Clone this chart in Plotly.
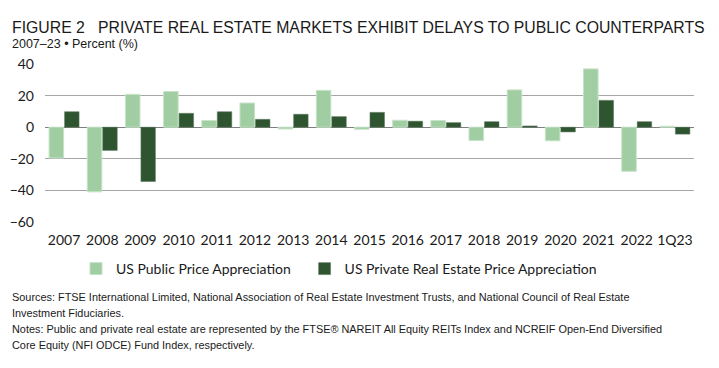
import plotly.graph_objects as go

categories = ["2007", "2008", "2009", "2010", "2011", "2012", "2013", "2014", "2015",
              "2016", "2017", "2018", "2019", "2020", "2021", "2022", "1Q23"]
public_vals = [-19.5, -40.9, 20.8, 22.6, 4.2, 15.3, -1.1, 23.3, -1.3,
               4.4, 4.2, -8.4, 23.6, -8.6, 36.9, -27.9, 0.6]
private_vals = [9.8, -14.7, -34.4, 8.8, 9.8, 5.0, 8.2, 6.7, 9.4,
                3.8, 2.9, 3.5, 0.8, -3.0, 17.0, 3.5, -4.4]
y_ticks = [-60, -40, -20, 0, 20, 40]

LIGHT = "#a0cda2"
DARK = "#2e5530"
TXT = "#1a1a1a"
COND = "Liberation Sans, Arial, sans-serif"

# the page body adds an 8px offset; work in target-pixel coords and subtract it
OFF = 8
W, H = 719 - OFF, 368 - OFF
L, R, T, B = 45 - OFF, 25, 64 - OFF, 146
ph = H - T - B
pw = W - L - R

def py(p):
    return (H - B - (p - OFF)) / ph

def px(p):
    return ((p - OFF) - L) / pw

fig = go.Figure()
fig.add_trace(go.Bar(x=categories, y=public_vals, name="US Public Price Appreciation\u2002\u2009",
                     marker=dict(color=LIGHT, line=dict(color="#c6e3c7", width=1))))
fig.add_trace(go.Bar(x=categories, y=private_vals, name="US Private Real Estate Price Appreciation",
                     marker=dict(color=DARK, line=dict(color="#5f7a60", width=0.5))))

fig.update_layout(
    width=W, height=H,
    margin=dict(l=L, r=R, t=T, b=B, autoexpand=False),
    paper_bgcolor="white", plot_bgcolor="white",
    barmode="group", bargap=0.19, bargroupgap=0.06,
    font=dict(family="Lato, sans-serif", color=TXT, size=14),
    showlegend=True,
    legend=dict(orientation="h", x=px(76), xanchor="left", y=py(269), yanchor="middle",
                font=dict(family="Lato, sans-serif", size=14, color=TXT),
                itemwidth=30, bgcolor="rgba(0,0,0,0)"),
    xaxis=dict(showgrid=False, ticks="", showline=False, ticklabelstandoff=8,
               tickfont=dict(family="Lato, sans-serif", size=14, color=TXT)),
    yaxis=dict(range=[-60, 40], tickvals=y_ticks, showgrid=True, gridcolor="#a6a6a6",
               gridwidth=1, zeroline=True, zerolinecolor="#7f7f7f", zerolinewidth=1.3,
               ticks="", showline=False, ticklabelstandoff=10,
               tickfont=dict(family="Lato, sans-serif", size=14, color=TXT)),
)

annotations = [
    dict(text="FIGURE 2   PRIVATE REAL ESTATE MARKETS EXHIBIT DELAYS TO PUBLIC COUNTERPARTS",
         x=px(10), y=py(27), font=dict(family=COND, size=15.8, color=TXT)),
    dict(text="2007–23 • Percent (%)", x=px(10), y=py(44),
         font=dict(family=COND, size=12.5, color=TXT)),
    dict(text="Sources: FTSE International Limited, National Association of Real Estate Investment Trusts, and National Council of Real Estate",
         x=px(10), y=py(297), font=dict(family=COND, size=10.9, color=TXT)),
    dict(text="Investment Fiduciaries.", x=px(10), y=py(313),
         font=dict(family=COND, size=10.9, color=TXT)),
    dict(text="Notes: Public and private real estate are represented by the FTSE® NAREIT All Equity REITs Index and NCREIF Open-End Diversified",
         x=px(10), y=py(329), font=dict(family=COND, size=10.9, color=TXT)),
    dict(text="Core Equity (NFI ODCE) Fund Index, respectively.", x=px(10), y=py(345),
         font=dict(family=COND, size=10.9, color=TXT)),
]
for a in annotations:
    a.update(xref="paper", yref="paper", xanchor="left", yanchor="middle",
             showarrow=False, align="left")
    fig.add_annotation(**a)

fig.write_html("out.html")
